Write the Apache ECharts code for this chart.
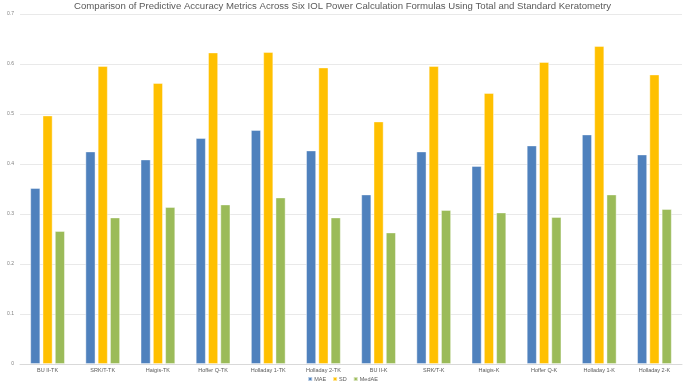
<!DOCTYPE html>
<html>
<head>
<meta charset="utf-8">
<script src="https://cdn.jsdelivr.net/npm/echarts@6/dist/echarts.min.js"></script>
<style>
  html, body { margin: 0; padding: 0; background: #fff; }
  #chart { width: 685px; height: 386px; }
</style>
</head>
<body>
<div id="chart"></div>
<script>
// categories (Total K vs Standard K)
const formulas = ['BU II-TK', 'SRK/T-TK', 'Haigis-TK', 'Hoffer Q-TK', 'Holladay 1-TK', 'Holladay 2-TK',
  'BU II-K', 'SRK/T-K', 'Haigis-K', 'Hoffer Q-K', 'Holladay 1-K', 'Holladay 2-K']

const maeValues = [0.352, 0.425, 0.409, 0.452, 0.468, 0.427, 0.339, 0.425, 0.396, 0.437, 0.459, 0.419]
const sdValues = [0.497, 0.596, 0.562, 0.623, 0.624, 0.593, 0.485, 0.596, 0.542, 0.604, 0.636, 0.579]
const medaeValues = [0.266, 0.293, 0.314, 0.319, 0.333, 0.293, 0.263, 0.308, 0.303, 0.294, 0.339, 0.310]

const chart = echarts.init(document.getElementById('chart'))

const fontFamily = 'Liberation Sans, Arial, sans-serif'

const makeBar = (name, data, color) => ({
  name: name,
  type: 'bar',
  data: data,
  barWidth: 10,
  barGap: '23%',
  itemStyle: { color: color, borderColor: 'rgba(255,255,255,0.55)', borderWidth: 0.8 }
})

const option = {
  animation: false,
  title: {
    text: 'Comparison of Predictive Accuracy Metrics Across Six IOL Power Calculation Formulas Using Total and Standard Keratometry',
    left: 'center',
    top: 1,
    padding: 0,
    textStyle: { fontSize: 9.6, fontWeight: 'normal', color: '#595959', fontFamily: fontFamily }
  },
  legend: {
    left: 'center',
    bottom: 4,
    padding: 0,
    itemWidth: 4,
    itemHeight: 4,
    itemGap: 6,
    icon: 'rect',
    textStyle: { fontSize: 5.5, color: '#595959', fontFamily: fontFamily, padding: [0, 0, 0, -3] },
    data: ['MAE', 'SD', 'MedAE']
  },
  grid: { left: 20, right: 3, top: 14, bottom: 22, containLabel: false, outerBoundsMode: 'none' },
  xAxis: {
    type: 'category',
    data: formulas,
    axisLine: { lineStyle: { color: '#d9d9d9' } },
    axisTick: { show: false },
    axisLabel: { fontSize: 5.5, color: '#595959', margin: 3, fontFamily: fontFamily, interval: 0 }
  },
  yAxis: {
    type: 'value',
    min: 0,
    max: 0.7,
    interval: 0.1,
    name: 'Error (D)',
    nameLocation: 'middle',
    nameGap: 15,
    nameTextStyle: { fontSize: 6, color: '#595959', fontFamily: fontFamily },
    axisLine: { show: false },
    axisTick: { show: false },
    axisLabel: { fontSize: 5, color: '#808080', margin: 6, fontFamily: fontFamily },
    splitLine: { lineStyle: { color: '#e9e9e9', width: 1 } }
  },
  series: [
    makeBar('MAE', maeValues, '#4f81bd'),
    makeBar('SD', sdValues, '#ffc000'),
    makeBar('MedAE', medaeValues, '#9bbb59')
  ]
}

chart.setOption(option)
</script>
</body>
</html>
